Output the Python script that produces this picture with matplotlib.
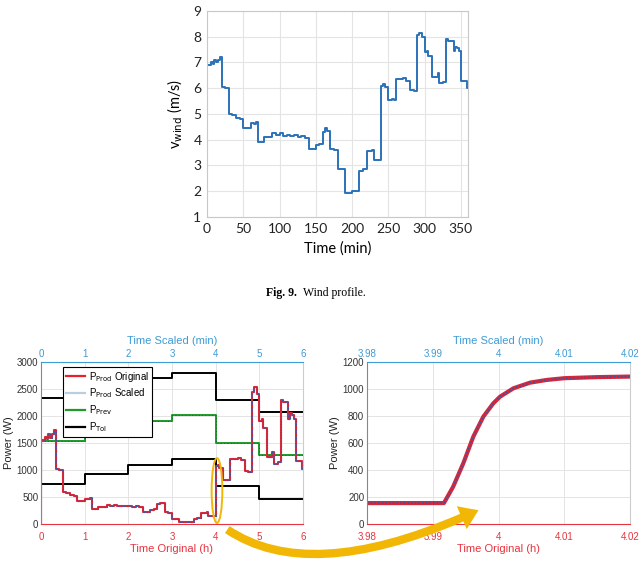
import matplotlib
matplotlib.use("Agg")
import matplotlib.pyplot as plt
from matplotlib.lines import Line2D
from matplotlib.patches import Ellipse, FancyArrowPatch

# wind profile (min, m/s)
wind_time = [0, 5, 8, 10, 13, 15, 18, 20, 25, 28, 30, 35, 40, 45, 50, 55, 60, 65, 68,
             70, 75, 78, 85, 90, 95, 100, 105, 110, 115, 120, 125, 130, 135, 140, 145,
             150, 155, 160, 163, 165, 170, 175, 180, 185, 190, 195, 200, 205, 210, 215,
             220, 225, 228, 230, 235, 240, 243, 245, 250, 255, 258, 260, 265, 270, 275,
             280, 285, 290, 293, 297, 300, 303, 305, 310, 315, 318, 320, 325, 330, 333,
             337, 340, 342, 345, 348, 350, 355, 358, 360]
wind_speed = [6.9, 7.0, 6.95, 7.1, 7.0, 7.1, 7.2, 6.05, 6.0, 6.0, 5.0, 4.95, 4.85, 4.8,
              4.45, 4.45, 4.65, 4.6, 4.7, 3.9, 3.9, 4.1, 4.1, 4.25, 4.2, 4.25, 4.15, 4.2,
              4.15, 4.2, 4.1, 4.15, 4.05, 3.65, 3.65, 3.8, 3.85, 4.3, 4.45, 4.35, 3.65,
              3.6, 2.85, 2.85, 1.95, 1.95, 2.0, 2.0, 2.8, 2.85, 3.55, 3.55, 3.6, 3.2,
              3.2, 6.1, 6.15, 6.05, 5.55, 5.6, 5.55, 6.35, 6.35, 6.4, 6.3, 5.95, 5.9,
              8.05, 8.15, 8.0, 7.4, 7.45, 7.25, 6.45, 6.45, 6.6, 6.2, 6.25, 7.9, 7.85,
              7.85, 7.45, 7.6, 7.55, 7.45, 6.3, 6.3, 6.0, 6.0]

# produced power (W), same breakpoints plus a start from zero
power_time_min = [0] + wind_time
power_w = [0, 1550, 1620, 1580, 1660, 1600, 1660, 1740, 1020, 1000, 1000, 600, 570,
           540, 520, 430, 430, 470, 460, 480, 280, 280, 320, 320, 350, 340, 350, 330,
           340, 330, 340, 320, 330, 310, 230, 230, 260, 270, 370, 390, 380, 220, 210,
           100, 100, 35, 35, 40, 40, 100, 105, 210, 210, 220, 155, 155, 1070, 1090,
           1040, 810, 820, 810, 1200, 1200, 1230, 1180, 990, 960, 2450, 2540, 2400,
           1900, 1940, 1780, 1250, 1250, 1340, 1120, 1150, 2300, 2260, 2260, 1940,
           2060, 2010, 1940, 1170, 1170, 1010, 1010]

# forecast and tolerance band (h, W)
band_hours = [0, 1, 2, 3, 4, 5, 6]
p_prev = [1540, 1710, 1900, 2010, 1500, 1270, 1270]
p_tol_upper = [2330, 2500, 2700, 2800, 2300, 2070, 2070]
p_tol_lower = [740, 920, 1100, 1210, 700, 460, 460]

# zoom of the step at 4 h
zoom_hours = [3.98, 3.985, 3.9917, 3.9931, 3.99465, 3.99617, 3.99769, 3.99921,
              4.00023, 4.00226, 4.00479, 4.00733, 4.01, 4.015, 4.02]
zoom_power = [155, 155, 155, 276, 450, 647, 795, 894, 943, 1005, 1047, 1067, 1080,
              1088, 1092]

RED = "#e8343f"
BLUE = "#3d9bd6"
GRID = "#e4e4e4"

fig = plt.figure(figsize=(6.43, 5.62), dpi=100)

# ---- top: wind profile ----
ax0 = fig.add_axes([207 / 643, 1 - 217 / 562, 261 / 643, 206 / 562])
ax0.plot(wind_time, wind_speed, drawstyle="steps-post", color="#2b72b8", lw=1.4)
ax0.set_xlim(0, 360)
ax0.set_ylim(1, 9)
ax0.set_xticks(range(0, 361, 50))
ax0.set_yticks(range(1, 10))
ax0.grid(True, color=GRID, lw=0.8)
ax0.tick_params(length=0, labelsize=10, labelcolor="#222222", pad=4)
for lab in ax0.get_xticklabels() + ax0.get_yticklabels():
    lab.set_family("Lato")
for s in ax0.spines.values():
    s.set_color("#c8c8c8")
ax0.set_xlabel("Time (min)", family="Lato", fontsize=10.5, labelpad=5)
ax0.set_ylabel(r"v$_{\mathrm{wind}}$ (m/s)", family="Lato", fontsize=10.5, labelpad=6)

fig.text(297 / 643, 1 - 293 / 562, "Fig. 9.", family="Liberation Serif",
         fontweight="bold", fontsize=8.5, ha="right", va="center")
fig.text(303 / 643, 1 - 293 / 562, "Wind profile.", family="Liberation Serif",
         fontsize=8.5, ha="left", va="center")


def style_power_axes(ax, top):
    ax.grid(True, color=GRID, lw=0.7)
    ax.tick_params(length=0, labelsize=7, labelcolor="#333333", pad=2)
    ax.tick_params(axis="x", labelcolor=RED, pad=6)
    ax.spines["bottom"].set_color(RED)
    ax.spines["left"].set_color("#888888")
    ax.spines["right"].set_color("#cccccc")
    ax.spines["top"].set_color(BLUE)
    ax.set_xlabel("Time Original (h)", color=RED, fontsize=8, labelpad=1)
    ax.set_ylabel("Power (W)", fontsize=8, color="#222222", labelpad=2)
    top.tick_params(length=0, labelsize=7, labelcolor=BLUE, pad=2)
    for s in top.spines.values():
        s.set_visible(False)
    top.set_xlabel("Time Scaled (min)", color=BLUE, fontsize=8, labelpad=4)


plt.rcParams["font.family"] = ["Liberation Sans", "DejaVu Sans"]

# ---- bottom left: full 6 h ----
ax1 = fig.add_axes([41 / 643, 1 - 524 / 562, 262 / 643, 162 / 562])
power_hours = [t / 60 for t in power_time_min]
ax1.plot(band_hours, p_tol_upper, drawstyle="steps-post", color="black", lw=1.4)
ax1.plot(band_hours, p_tol_lower, drawstyle="steps-post", color="black", lw=1.4)
ax1.plot(band_hours, p_prev, drawstyle="steps-post", color="#1e9a2a", lw=1.4)
ax1.plot(band_hours, p_prev, drawstyle="steps-post", color="#145c18", lw=0.6,
         ls=(0, (1, 3)))
ax1.plot(power_hours, power_w, drawstyle="steps-post", color="#d6283a", lw=1.5)
ax1.plot(power_hours, power_w, drawstyle="steps-post", color="#3457a8", lw=0.8,
         ls=(0, (1, 1.5)))
ax1.set_xlim(0, 6)
ax1.set_ylim(0, 3000)
ax1.set_xticks(range(0, 7))
ax1.set_yticks(range(0, 3001, 500))
top1 = ax1.twiny()
top1.set_xlim(0, 6)
top1.set_xticks(range(0, 7))
style_power_axes(ax1, top1)

handles = [Line2D([], [], color="#e8202a", lw=1.6),
           Line2D([], [], color="#b8cfe2", lw=1.6),
           Line2D([], [], color="#1e9a2a", lw=1.6),
           Line2D([], [], color="black", lw=1.6)]
labels = [r"P$_{\mathrm{Prod}}$ Original", r"P$_{\mathrm{Prod}}$ Scaled",
          r"P$_{\mathrm{Prev}}$", r"P$_{\mathrm{Tol}}$"]
leg = ax1.legend(handles, labels, loc="upper left", bbox_to_anchor=(0.084, 0.97),
                 borderaxespad=0, fontsize=7, frameon=True, fancybox=False,
                 framealpha=1, edgecolor="black", handlelength=2.0, borderpad=0.3,
                 labelspacing=0.3, handletextpad=0.4)
leg.get_frame().set_linewidth(0.8)

ax1.add_patch(Ellipse((4.03, 620), 0.245, 1200, fill=False, ec="#f2b705", lw=1.4,
                      zorder=5))

# ---- bottom right: zoom ----
ax2 = fig.add_axes([367 / 643, 1 - 524 / 562, 263 / 643, 162 / 562])
ax2.plot(zoom_hours, zoom_power, color="#d6283a", lw=3.0)
ax2.plot(zoom_hours, zoom_power, color="#3457a8", lw=1.2, ls=(0, (1, 1.2)))
ax2.set_xlim(3.98, 4.02)
ax2.set_ylim(0, 1200)
xt = [3.98, 3.99, 4.0, 4.01, 4.02]
xl = ["3.98", "3.99", "4", "4.01", "4.02"]
ax2.set_xticks(xt)
ax2.set_xticklabels(xl)
ax2.set_yticks(range(0, 1201, 200))
top2 = ax2.twiny()
top2.set_xlim(3.98, 4.02)
top2.set_xticks(xt)
top2.set_xticklabels(xl)
style_power_axes(ax2, top2)

# curved arrow between panels
arrow = FancyArrowPatch((225 / 643, 1 - 528 / 562), (481 / 643, 1 - 509 / 562),
                        transform=fig.transFigure,
                        connectionstyle="angle3,angleA=-35,angleB=25",
                        arrowstyle="simple,head_length=1.1,head_width=1.5,tail_width=0.5",
                        mutation_scale=12, color="#f2b705", lw=0, zorder=10)
fig.add_artist(arrow)

fig.savefig("out.png", dpi=100)
